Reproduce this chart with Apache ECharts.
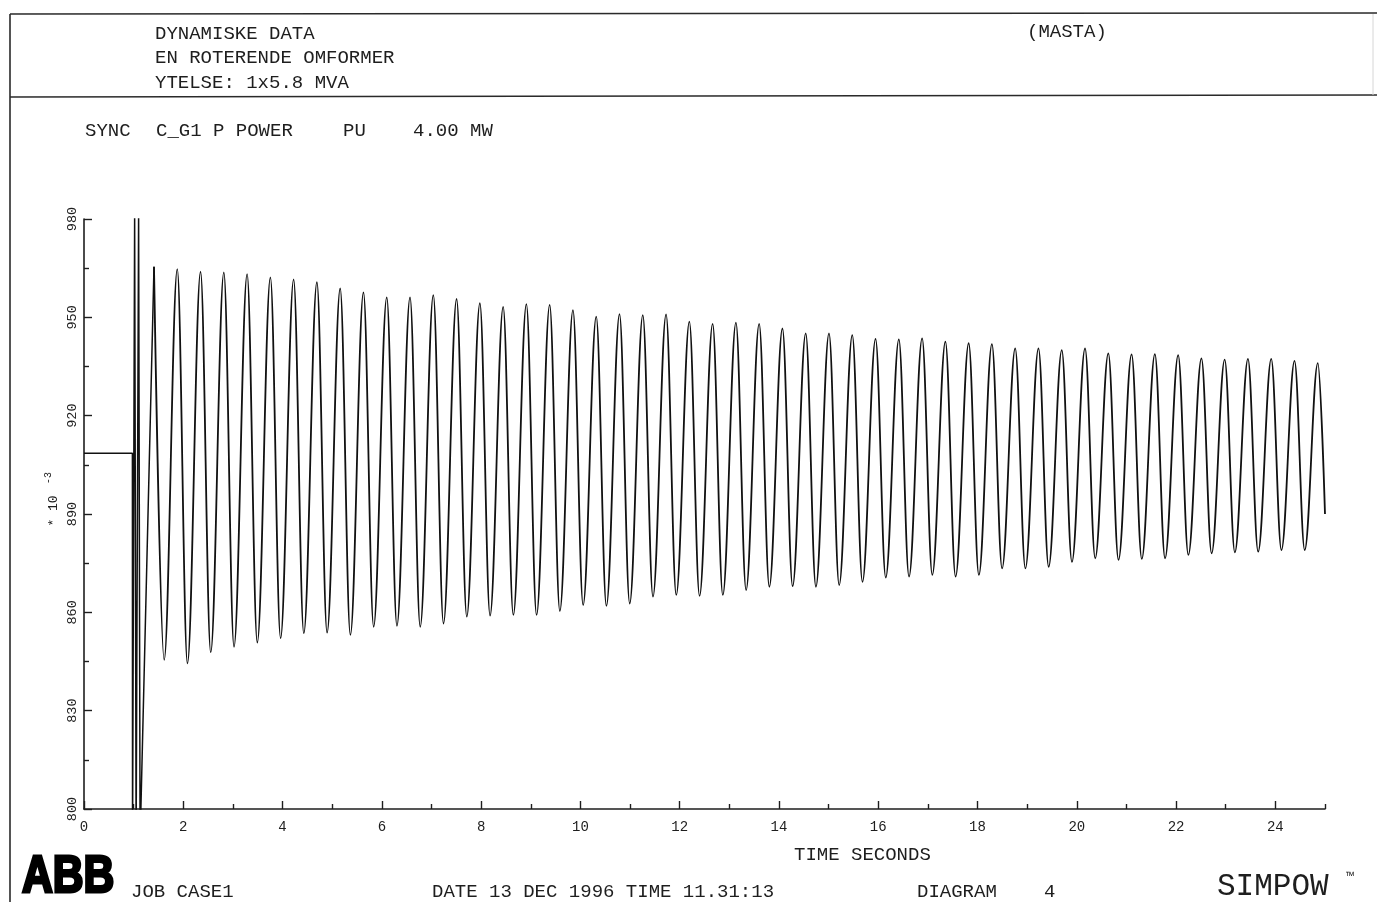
<!DOCTYPE html>
<html>
<head>
<meta charset="utf-8">
<script src="https://cdn.jsdelivr.net/npm/echarts@6/dist/echarts.min.js"></script>
<style>
html,body{margin:0;padding:0;background:#fff;}
#c{width:1377px;height:902px;}
</style>
</head>
<body>
<div id="c"></div>
<script>
// ---------- texts ----------
const headerLines = ['DYNAMISKE DATA', 'EN ROTERENDE OMFORMER', 'YTELSE: 1x5.8 MVA'];
const headerRight = '(MASTA)';
const plotTitleParts = ['SYNC', 'C_G1 P POWER', 'PU', '4.00 MW'];
const xAxisTitle = 'TIME SECONDS';
const yScaleNote = '* 10';
const yScaleExp = '-3';
const footerParts = ['JOB CASE1', 'DATE 13 DEC 1996 TIME 11.31:13', 'DIAGRAM', '4'];
const brandLeft = 'ABB';
const brandRight = 'SIMPOW';
const brandMark = '\u2122';

// ---------- axes ----------
const xMajorTicks = [0, 2, 4, 6, 8, 10, 12, 14, 16, 18, 20, 22, 24];
const xMinorTicks = [1, 3, 5, 7, 9, 11, 13, 15, 17, 19, 21, 23, 25];
const yTickLabels = [800, 830, 860, 890, 920, 950, 980];

// ---------- data (time s, value *10^-3) ----------
// steady state before the disturbance and the fault transient (values beyond the axis are clipped)
const faultTimes  = [0, 0.975, 0.978, 0.99, 1.02, 1.05, 1.07, 1.10, 1.13, 1.16];
const faultValues = [908.5, 908.5, 790, 790, 981, 790, 790, 981, 790, 790];

// swing maxima
const peakTimes = [1.410, 1.879, 2.348, 2.817, 3.286, 3.755, 4.223, 4.692, 5.161, 5.630,
  6.099, 6.568, 7.037, 7.506, 7.975, 8.444, 8.912, 9.381, 9.850, 10.319,
  10.788, 11.257, 11.726, 12.195, 12.664, 13.133, 13.601, 14.070, 14.539, 15.008,
  15.477, 15.946, 16.415, 16.884, 17.353, 17.822, 18.290, 18.759, 19.228, 19.697,
  20.166, 20.635, 21.104, 21.573, 22.042, 22.511, 22.979, 23.448, 23.917, 24.386, 24.855];
const peakValues = [965.4, 964.7, 963.9, 963.7, 963.2, 962.2, 961.6, 960.7, 958.8, 957.6,
  956.1, 956.1, 956.8, 955.6, 954.3, 953.2, 954.0, 953.8, 952.2, 950.2,
  951.0, 950.7, 950.9, 948.7, 948.0, 948.4, 948.0, 946.6, 945.1, 945.1,
  944.6, 943.4, 943.3, 943.6, 942.6, 942.1, 941.8, 940.5, 940.5, 940.0,
  940.5, 939.0, 938.7, 938.8, 938.5, 937.5, 937.1, 937.3, 937.3, 936.7, 936.0];

// swing minima
const troughTimes = [1.615, 2.084, 2.553, 3.022, 3.491, 3.960, 4.428, 4.897, 5.366, 5.835,
  6.304, 6.773, 7.242, 7.711, 8.180, 8.649, 9.117, 9.586, 10.055, 10.524,
  10.993, 11.462, 11.931, 12.400, 12.869, 13.338, 13.806, 14.275, 14.744, 15.213,
  15.682, 16.151, 16.620, 17.089, 17.558, 18.027, 18.495, 18.964, 19.433, 19.902,
  20.371, 20.840, 21.309, 21.778, 22.247, 22.716, 23.184, 23.653, 24.122, 24.591];
const troughValues = [845.5, 844.4, 847.8, 849.5, 850.8, 852.1, 853.6, 853.8, 853.1, 855.6,
  855.9, 855.6, 856.6, 858.7, 859.0, 859.2, 859.2, 860.4, 862.2, 862.0,
  862.7, 864.8, 865.3, 865.0, 865.3, 866.8, 867.8, 868.0, 867.8, 868.3,
  869.3, 870.6, 870.9, 871.4, 870.9, 871.4, 873.4, 873.4, 873.9, 875.4,
  876.5, 876.0, 876.3, 876.5, 877.5, 878.0, 878.3, 878.5, 879.0, 879.0];

const endTime = 25.0;
const endValue = 890.0;

// ---------- build series data ----------
const faultData = faultTimes.map((t, i) => [t, faultValues[i]]);
faultData.push([peakTimes[0], peakValues[0]]);

const swingData = [];
for (let i = 0; i < peakTimes.length; i++) {
  swingData.push([peakTimes[i], peakValues[i]]);
  if (i < troughTimes.length) swingData.push([troughTimes[i], troughValues[i]]);
}
swingData.push([endTime, endValue]);

// ---------- styles ----------
const INK = '#1e1e1e';
const MONO = '"Liberation Mono", "DejaVu Sans Mono", monospace';
const txt = (text, x, y, size, extra) => Object.assign({
  type: 'text', x: x, y: y, silent: true,
  style: Object.assign({ text: text, font: size + 'px ' + MONO, fill: INK, align: 'left', verticalAlign: 'middle' }, extra || {})
});
const line = (x1, y1, x2, y2, color, w) => ({
  type: 'line', silent: true,
  shape: { x1: x1, y1: y1, x2: x2, y2: y2 },
  style: { stroke: color, lineWidth: w }
});

const chart = echarts.init(document.getElementById('c'), null, { renderer: 'canvas' });

const option = {
  animation: false,
  backgroundColor: '#ffffff',
  grid: { left: 84, right: 52, top: 219, bottom: 93, containLabel: false },
  xAxis: [{
    type: 'value', min: 0, max: 25, position: 'bottom',
    axisLine: { show: true, onZero: false, lineStyle: { color: INK, width: 1.6 } },
    axisTick: { show: true, inside: true, length: 8, customValues: xMajorTicks, lineStyle: { color: INK, width: 1.4 } },
    axisLabel: { show: true, customValues: xMajorTicks, color: INK, fontFamily: MONO, fontSize: 14, margin: 11 },
    splitLine: { show: false }
  }, {
    type: 'value', min: 0, max: 25, position: 'bottom', gridIndex: 0,
    axisLine: { show: false, onZero: false },
    axisTick: { show: true, inside: true, length: 5, customValues: xMinorTicks, lineStyle: { color: INK, width: 1.4 } },
    axisLabel: { show: false },
    splitLine: { show: false }
  }],
  yAxis: {
    type: 'value', min: yTickLabels[0], max: yTickLabels[yTickLabels.length - 1], interval: 30,
    axisLine: { show: true, onZero: false, lineStyle: { color: INK, width: 1.6 } },
    axisTick: { show: true, inside: true, length: 8, lineStyle: { color: INK, width: 1.4 } },
    minorTick: { show: true, splitNumber: 2, length: 5, lineStyle: { color: INK, width: 1.4 } },
    axisLabel: { show: true, rotate: 90, color: INK, fontFamily: MONO, fontSize: 13.5, margin: 5 },
    splitLine: { show: false }
  },
  series: [{
    type: 'line', data: faultData, symbol: 'none', clip: true, smooth: false,
    lineStyle: { color: '#111', width: 1.5 }
  }, {
    type: 'line', data: swingData, symbol: 'none', clip: true,
    smooth: 0.36, smoothMonotone: 'x',
    lineStyle: { color: '#111', width: 1.8 }
  }],
  graphic: [
    line(10, 14, 1377, 13, '#2a2a2a', 1.6),
    line(10, 97, 1377, 95, '#2a2a2a', 1.6),
    line(10, 14, 10, 902, '#2a2a2a', 1.6),
    line(1373, 14, 1373, 95, '#d6d6d6', 1),
    txt(headerLines[0], 155, 34, 19),
    txt(headerLines[1], 155, 58, 19),
    txt(headerLines[2], 155, 83, 19),
    txt(headerRight, 1027, 32, 19),
    txt(plotTitleParts[0], 85, 131, 19),
    txt(plotTitleParts[1], 156, 131, 19),
    txt(plotTitleParts[2], 343, 131, 19),
    txt(plotTitleParts[3], 413, 131, 19),
    txt(xAxisTitle, 794, 855, 19),
    { type: 'text', x: 54, y: 511, rotation: Math.PI / 2, silent: true,
      style: { text: yScaleNote, font: '13px ' + MONO, fill: INK, align: 'center', verticalAlign: 'middle' } },
    { type: 'text', x: 48, y: 478, rotation: Math.PI / 2, silent: true,
      style: { text: yScaleExp, font: '10px ' + MONO, fill: INK, align: 'center', verticalAlign: 'middle' } },
    { type: 'text', x: 22, y: 878, scaleX: 0.82, silent: true,
      style: { text: brandLeft, font: 'bold 52px "Liberation Sans", Arial, sans-serif', fill: '#000',
               stroke: '#000', lineWidth: 3, align: 'left', verticalAlign: 'middle' } },
    txt(footerParts[0], 131, 892, 19),
    txt(footerParts[1], 432, 892, 19),
    txt(footerParts[2], 917, 892, 19),
    txt(footerParts[3], 1044, 892, 19),
    txt(brandRight, 1217, 887, 31),
    txt(brandMark, 1346, 878, 13)
  ]
};
chart.setOption(option);
</script>
</body>
</html>
